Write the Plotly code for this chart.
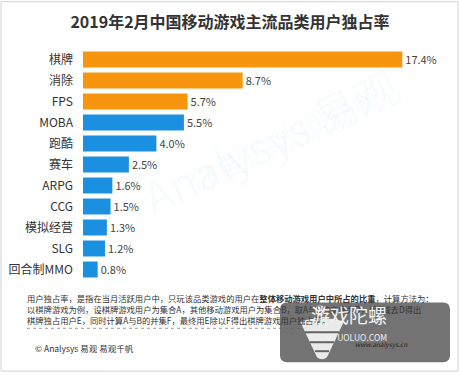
import plotly.graph_objects as go

categories = ["棋牌", "消除", "FPS", "MOBA", "跑酷", "赛车", "ARPG", "CCG", "模拟经营", "SLG", "回合制MMO"]
values = [17.4, 8.7, 5.7, 5.5, 4.0, 2.5, 1.6, 1.5, 1.3, 1.2, 0.8]
highlight = [True, True, True, False, False, False, False, False, False, False, False]
title_text = "2019年2月中国移动游戏主流品类用户独占率"
notes = [
    "用户独占率，是指在当月活跃用户中，只玩该品类游戏的用户在<b>整体移动游戏用户中所占的比重</b>，计算方法为：",
    "以棋牌游戏为例，设棋牌游戏用户为集合A，其他移动游戏用户为集合B，取A与B的交集为D，用A减去D得出",
    "棋牌独占用户E，同时计算A与B的并集F，最终用E除以F得出棋牌游戏用户独占率。",
]
source_text = "© Analysys 易观 易观千帆"

ORANGE = "#F7960E"
BLUE = "#1B8FE0"
FONT = "Noto Sans CJK SC"

W, H = 460, 375
L, R, T, B = 83, 10, 48.5, 94.5
PW, PH = W - L - R, H - T - B


def px(x):
    return (x - L) / PW


def py(y):
    return (H - B - y) / PH


colors = [ORANGE if h else BLUE for h in highlight]

fig = go.Figure(
    go.Bar(
        x=values,
        y=categories,
        orientation="h",
        marker=dict(color=colors, line=dict(width=0)),
        width=0.76,
        text=[f"{v:.1f}%" for v in values],
        textposition="outside",
        cliponaxis=False,
        textfont=dict(size=11, color="#444444", family=FONT),
        hoverinfo="skip",
    )
)

annotations = []
# faint watermark
annotations.append(dict(xref="paper", yref="paper", x=px(270), y=py(140), text="Analysys 易观",
                        showarrow=False, textangle=-25, font=dict(size=44, color="rgba(27,143,224,0.035)", family=FONT)))
annotations.append(dict(xref="paper", yref="paper", x=px(285), y=py(205), text="你要的数据分析",
                        showarrow=False, textangle=-25, font=dict(size=30, color="rgba(27,143,224,0.03)", family=FONT)))

for i, line in enumerate(notes):
    annotations.append(dict(xref="paper", yref="paper", x=px(25), y=py(299 + 11 * i), xanchor="left", yanchor="middle",
                            text=line, showarrow=False, font=dict(size=8.3, color="#333333", family=FONT)))
annotations.append(dict(xref="paper", yref="paper", x=px(33), y=py(349), xanchor="left", yanchor="middle",
                        text=source_text, showarrow=False, font=dict(size=8.5, color="#333333", family=FONT)))

shapes = []
# outer frame
shapes.append(dict(type="rect", xref="paper", yref="paper", x0=px(1), x1=px(458), y0=py(1), y1=py(372),
                   line=dict(color="#D0D0D0", width=1), fillcolor="rgba(0,0,0,0)", layer="below"))
# dotted separator
shapes.append(dict(type="line", xref="paper", yref="paper", x0=px(27), x1=px(330), y0=py(329), y1=py(329),
                   line=dict(color="#999999", width=1, dash="dot")))

# logo box (rounded)
x0, x1, y0, y1, r = 280, 450, 303, 363, 7
path = (f"M {px(x0 + r)} {py(y0)} L {px(x1 - r)} {py(y0)} Q {px(x1)} {py(y0)} {px(x1)} {py(y0 + r)} "
        f"L {px(x1)} {py(y1 - r)} Q {px(x1)} {py(y1)} {px(x1 - r)} {py(y1)} "
        f"L {px(x0 + r)} {py(y1)} Q {px(x0)} {py(y1)} {px(x0)} {py(y1 - r)} "
        f"L {px(x0)} {py(y0 + r)} Q {px(x0)} {py(y0)} {px(x0 + r)} {py(y0)} Z")
shapes.append(dict(type="path", xref="paper", yref="paper", path=path,
                   fillcolor="rgba(100,100,100,0.9)", line=dict(width=0)))
# logo icon: spinning-top shape
icon = (f"M {px(300)} {py(322)} Q {px(322)} {py(316)} {px(344)} {py(322)} "
        f"L {px(327)} {py(358)} Q {px(322)} {py(362)} {px(317)} {py(358)} Z")
shapes.append(dict(type="path", xref="paper", yref="paper", path=icon,
                   fillcolor="rgba(240,240,240,0.95)", line=dict(width=0)))
for yy, xa, xb in [(333, 305, 339), (343, 310, 334), (352, 315, 329)]:
    shapes.append(dict(type="line", xref="paper", yref="paper", x0=px(xa), x1=px(xb), y0=py(yy), y1=py(yy),
                       line=dict(color="rgba(100,100,100,1)", width=2)))
shapes.append(dict(type="circle", xref="paper", yref="paper", x0=px(315), x1=px(325), y0=py(306), y1=py(316),
                   fillcolor="rgba(240,240,240,0.95)", line=dict(width=0)))

annotations.append(dict(xref="paper", yref="paper", x=px(389), y=py(331), text="游戏陀螺", showarrow=False,
                        font=dict(size=19, color="#F2F2F2", family=FONT)))
annotations.append(dict(xref="paper", yref="paper", x=px(389), y=py(346), text="YOUXITUOLUO.COM", showarrow=False,
                        font=dict(size=8.5, color="#F2F2F2", family=FONT)))
annotations.append(dict(xref="paper", yref="paper", x=px(410), y=py(352), text="<i>www.analysys.cn</i>", showarrow=False,
                        font=dict(size=6.5, color="#222222", family=FONT)))

fig.update_layout(
    width=W, height=H,
    margin=dict(l=L, r=R, t=T, b=B, pad=0, autoexpand=False),
    paper_bgcolor="white", plot_bgcolor="white",
    showlegend=False,
    title=dict(text=f"<b>{title_text}</b>", x=0.5, xref="container", xanchor="center",
               y=1 - 22 / H, yref="container", yanchor="middle", automargin=False,
               font=dict(size=16, color="#333333", family=FONT)),
    xaxis=dict(range=[0, 20], visible=False, fixedrange=True, automargin=False),
    yaxis=dict(categoryorder="array", categoryarray=categories, autorange=False, fixedrange=True,
               range=[10.5, -0.5], showgrid=False, zeroline=False, showline=False, ticks="",
               automargin=False, ticklabelstandoff=9, tickfont=dict(size=12, color="#333333", family=FONT)),
    bargap=0.24,
    annotations=annotations,
    shapes=shapes,
    font=dict(family=FONT),
)

fig.write_html("out.html", config={"displayModeBar": False},
               post_script="document.body.style.margin='0px';")
